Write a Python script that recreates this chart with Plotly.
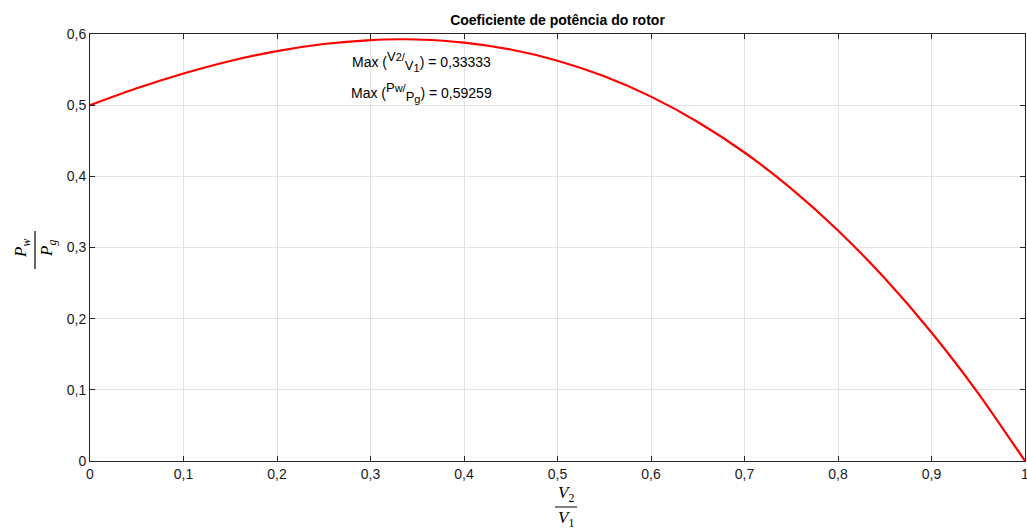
import plotly.graph_objects as go

# Data
v_ratio = [0.0, 0.05, 0.1, 0.15, 0.2, 0.25, 0.3, 0.3333, 0.35, 0.4, 0.45, 0.5,
           0.55, 0.6, 0.65, 0.7, 0.75, 0.8, 0.85, 0.9, 0.95, 1.0]
p_ratio = [0.5, 0.5237, 0.5445, 0.5621, 0.576, 0.5859, 0.5915, 0.5926, 0.5923, 0.588,
           0.5782, 0.5625, 0.5406, 0.512, 0.4764, 0.4335, 0.3828, 0.324, 0.2567,
           0.1805, 0.0951, 0.0]

x_ticks = [0, 0.1, 0.2, 0.3, 0.4, 0.5, 0.6, 0.7, 0.8, 0.9, 1]
x_tick_labels = ["0", "0,1", "0,2", "0,3", "0,4", "0,5", "0,6", "0,7", "0,8", "0,9", "1"]
y_ticks = [0, 0.1, 0.2, 0.3, 0.4, 0.5, 0.6]
y_tick_labels = ["0", "0,1", "0,2", "0,3", "0,4", "0,5", "0,6"]

max_v = "0,33333"
max_p = "0,59259"

W, H = 1027, 529
L, R, T, B = 90, 2, 34, 68
PW, PH = W - L - R, H - T - B


def px_x(px):
    return (px - L) / PW


def px_y(py):
    return (H - B - py) / PH


fig = go.Figure()
fig.add_trace(go.Scatter(x=v_ratio, y=p_ratio, mode="lines",
                         line=dict(color="#ff0000", width=2.2, shape="spline", smoothing=0.6),
                         showlegend=False, hoverinfo="skip", cliponaxis=False))

axis_common = dict(showgrid=True, gridcolor="#e3e3e3", gridwidth=1,
                   showline=True, linecolor="#262626", linewidth=1, mirror="ticks",
                   ticks="inside", ticklen=5, tickcolor="#262626",
                   tickfont=dict(family="Liberation Sans, Arial", size=14, color="#1a1a1a"),
                   zeroline=False, automargin=False, ticklabeloverflow="allow")

fig.update_xaxes(range=[0, 1], tickvals=x_ticks, ticktext=x_tick_labels, **axis_common)
fig.update_yaxes(range=[0, 0.6], tickvals=y_ticks, ticktext=y_tick_labels, **axis_common)

ann_font = dict(family="Liberation Sans, Arial", size=14, color="#000000")
serif = dict(family="Liberation Serif, DejaVu Serif", size=17, color="#000000")


def big(t, s=13):
    return '<span style="font-size:%dpx">%s</span>' % (s, t)


annotations = [
    dict(x=px_x(421), y=px_y(47), xref="paper", yref="paper", showarrow=False, font=ann_font,
         text="Max (<sup>" + big("V") + big("2/", 11) + "</sup><sub>" + big("V") + "<sub>" + big("1", 11)
              + "</sub></sub>) = " + max_v),
    dict(x=px_x(421), y=px_y(78), xref="paper", yref="paper", showarrow=False, font=ann_font,
         text="Max (<sup>" + big("P") + big("w/", 11) + "</sup><sub>" + big("P") + "<sub>" + big("g", 11)
              + "</sub></sub>) = " + max_p),
    # x-axis label fraction
    dict(x=px_x(566), y=px_y(494), xref="paper", yref="paper", showarrow=False,
         font=serif, text="<i>V</i><sub>2</sub>", yanchor="middle"),
    dict(x=px_x(566), y=px_y(519), xref="paper", yref="paper", showarrow=False,
         font=serif, text="<i>V</i><sub>1</sub>", yanchor="middle"),
    # y-axis label fraction
    dict(x=px_x(22), y=px_y(249), xref="paper", yref="paper", showarrow=False,
         font=serif, text="<i>P</i><sub><i>w</i></sub>", textangle=-90,
         xanchor="center", yanchor="middle"),
    dict(x=px_x(48), y=px_y(249), xref="paper", yref="paper", showarrow=False,
         font=serif, text="<i>P</i><sub><i>g</i></sub>", textangle=-90,
         xanchor="center", yanchor="middle"),
]

shapes = [
    dict(type="line", xref="paper", yref="paper",
         x0=px_x(555), x1=px_x(577), y0=px_y(507), y1=px_y(507),
         line=dict(color="#000000", width=1)),
    dict(type="line", xref="paper", yref="paper",
         x0=px_x(35), x1=px_x(35), y0=px_y(269), y1=px_y(231),
         line=dict(color="#000000", width=1.2)),
]

fig.update_layout(
    width=W, height=H,
    margin=dict(l=L, r=R, t=T, b=B, autoexpand=False),
    paper_bgcolor="white", plot_bgcolor="white",
    title=dict(text="<b>Coeficiente de potência do rotor</b>", x=(L + PW / 2) / W,
               xanchor="center", y=1 - 20 / H, yanchor="middle",
               font=dict(family="Liberation Sans, Arial", size=14, color="#000000")),
    annotations=annotations, shapes=shapes,
)

fig.write_html("out.html", config={"displayModeBar": False},
               post_script="document.body.style.margin='0';document.body.style.overflow='hidden';")
